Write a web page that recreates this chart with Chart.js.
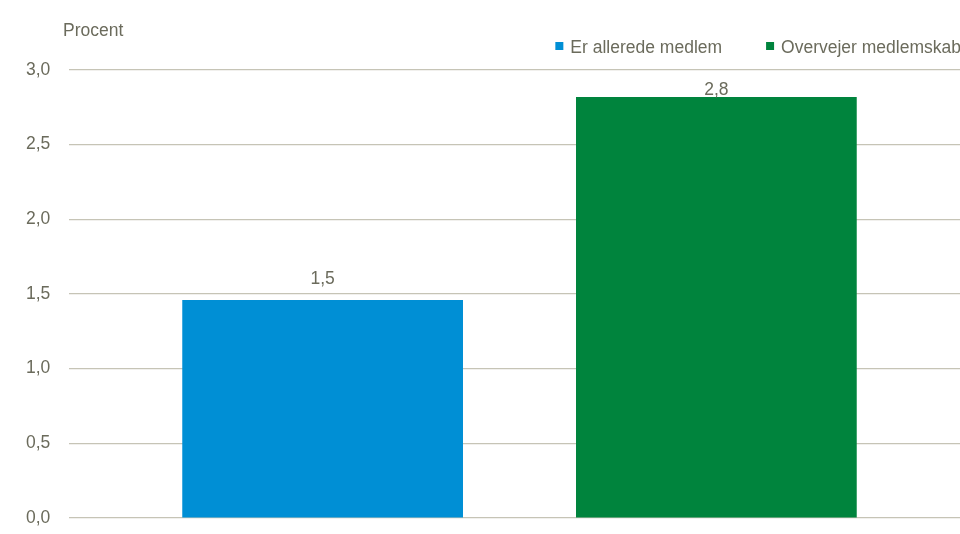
<!DOCTYPE html>
<html>
<head>
<meta charset="utf-8">
<script src="https://cdn.jsdelivr.net/npm/chart.js@4"></script>
<style>
  html, body { margin: 0; padding: 0; overflow: hidden; background: #fff; }
  #wrap { width: 970px; height: 534px; }
</style>
</head>
<body>
<div id="wrap"><canvas id="chart" width="970" height="534"></canvas></div>
<script>
const seriesLabels = ['Er allerede medlem', 'Overvejer medlemskab'];
const seriesValues = [1.46, 2.82];
const seriesColors = ['#008fd5', '#00843d'];
const unitLabel = 'Procent';

const textColor = '#6b6b5c';
const gridColor = '#c6c4b6';
const fontFamily = '"Liberation Sans", Arial, sans-serif';
const fontSize = 17.5;

const fmt = v => v.toFixed(1).replace('.', ',');

// unit text, value labels and the legend are drawn here
const extras = {
  id: 'extras',
  afterDatasetsDraw(chart) {
    const ctx = chart.ctx;
    const area = chart.chartArea;
    ctx.save();
    ctx.font = fontSize + 'px ' + fontFamily;
    ctx.fillStyle = textColor;
    ctx.textBaseline = 'alphabetic';

    ctx.textAlign = 'left';
    ctx.fillText(unitLabel, 63, 36);

    ctx.textAlign = 'center';
    chart.data.datasets.forEach((ds, i) => {
      const bar = chart.getDatasetMeta(i).data[0];
      const y = Math.max(bar.y - 16, area.top + 25);
      ctx.fillText(fmt(ds.data[0]), bar.x, y);
    });

    // legend, right edge at 960
    ctx.textAlign = 'left';
    const gap = 44, box = 8, toText = 15;
    const widths = chart.data.datasets.map(ds => toText + ctx.measureText(ds.label).width);
    let x = 961 - widths.reduce((a, b) => a + b, 0) - gap * (widths.length - 1);
    chart.data.datasets.forEach((ds, i) => {
      ctx.fillStyle = ds.backgroundColor;
      ctx.fillRect(x, 42, box, box);
      ctx.fillStyle = textColor;
      ctx.fillText(ds.label, x + toText, 53);
      x += widths[i] + gap;
    });
    ctx.restore();
  }
};

new Chart(document.getElementById('chart'), {
  type: 'bar',
  data: {
    labels: [''],
    datasets: seriesLabels.map((label, i) => ({
      label: label,
      data: [seriesValues[i]],
      backgroundColor: seriesColors[i],
      categoryPercentage: 0.874,
      barPercentage: 0.713
    }))
  },
  options: {
    responsive: false,
    animation: false,
    layout: { padding: { top: 70, bottom: 16, left: 26, right: 0 } },
    plugins: {
      legend: { display: false },
      tooltip: { enabled: false }
    },
    scales: {
      x: { display: false },
      y: {
        min: 0,
        max: 3,
        border: { display: false },
        grid: { color: gridColor, lineWidth: 1.2, drawTicks: false },
        ticks: {
          stepSize: 0.5,
          padding: 0,
          crossAlign: 'far',
          color: textColor,
          font: { family: fontFamily, size: fontSize },
          callback: v => fmt(v)
        },
        afterFit(scale) { scale.width = 43; }
      }
    }
  },
  plugins: [extras]
});
</script>
</body>
</html>
